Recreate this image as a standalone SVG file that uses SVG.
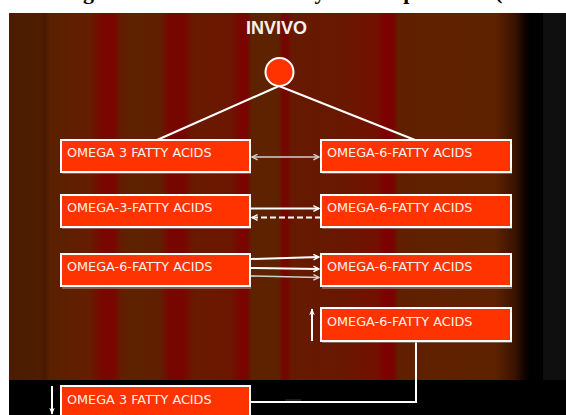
<svg xmlns="http://www.w3.org/2000/svg" width="566" height="415" viewBox="0 0 566 415">
<defs>
<linearGradient id="bg" gradientUnits="userSpaceOnUse" x1="9" y1="0" x2="543" y2="0">
<stop offset="0" stop-color="#4a1c00"/>
<stop offset="0.058" stop-color="#4f1d00"/>
<stop offset="0.067" stop-color="#461a00"/>
<stop offset="0.077" stop-color="#5a2000"/>
<stop offset="0.150" stop-color="#641e00"/>
<stop offset="0.176" stop-color="#7a0600"/>
<stop offset="0.197" stop-color="#7a0600"/>
<stop offset="0.210" stop-color="#621e00"/>
<stop offset="0.227" stop-color="#5e2200"/>
<stop offset="0.283" stop-color="#601f00"/>
<stop offset="0.300" stop-color="#780600"/>
<stop offset="0.328" stop-color="#780600"/>
<stop offset="0.345" stop-color="#681a00"/>
<stop offset="0.415" stop-color="#6c1600"/>
<stop offset="0.436" stop-color="#7c0200"/>
<stop offset="0.446" stop-color="#760600"/>
<stop offset="0.455" stop-color="#5e2200"/>
<stop offset="0.505" stop-color="#5e2200"/>
<stop offset="0.512" stop-color="#740800"/>
<stop offset="0.522" stop-color="#740800"/>
<stop offset="0.530" stop-color="#661a00"/>
<stop offset="0.620" stop-color="#681800"/>
<stop offset="0.690" stop-color="#741000"/>
<stop offset="0.704" stop-color="#7e0000"/>
<stop offset="0.719" stop-color="#780400"/>
<stop offset="0.730" stop-color="#602000"/>
<stop offset="0.910" stop-color="#5e2200"/>
<stop offset="0.948" stop-color="#3a1200"/>
<stop offset="0.966" stop-color="#100300"/>
<stop offset="0.976" stop-color="#000000"/>
<stop offset="1" stop-color="#000000"/>
</linearGradient>
<marker id="aw" viewBox="0 0 10 10" refX="9" refY="5" markerWidth="7" markerHeight="7" markerUnits="userSpaceOnUse" orient="auto-start-reverse">
<path d="M1,1 L9,5 L1,9" fill="none" stroke="#ffffff" stroke-width="2"/>
</marker>
<marker id="ag" viewBox="0 0 10 10" refX="9" refY="5" markerWidth="7" markerHeight="7" markerUnits="userSpaceOnUse" orient="auto-start-reverse">
<path d="M1,1 L9,5 L1,9" fill="none" stroke="#d0d0d0" stroke-width="2"/>
</marker>
<marker id="af" viewBox="0 0 10 10" refX="9" refY="5" markerWidth="7" markerHeight="7" markerUnits="userSpaceOnUse" orient="auto">
<path d="M0,1 L10,5 L0,9 L3,5 Z" fill="#ffffff"/>
</marker>
</defs>
<style>
.box{fill:#ff3300;stroke:#ffffff;stroke-width:2}
.sh{fill:#9a8a86;opacity:0.6}
.lbl{font-family:"DejaVu Sans","Liberation Sans",sans-serif;font-size:12.8px;fill:#fff2ec}
.ttl{font-family:"Liberation Serif","Times New Roman",serif;font-size:22px;font-weight:bold;fill:#000000}
.hd{font-family:"Liberation Sans",Arial,sans-serif;font-size:18px;font-weight:bold;fill:#f4f0ee}
.cw{fill:none;stroke:#ffffff;stroke-width:2}
.cg{fill:none;stroke:#d0d0d0;stroke-width:1.6}
</style>
<rect x="0" y="0" width="566" height="415" fill="#ffffff"/>
<text class="ttl" x="34" y="-1.5">Biological Interactions of Fatty<tspan x="358">Competition</tspan><tspan x="495">(In Vivo)</tspan></text>
<rect x="9" y="13" width="534" height="367" fill="url(#bg)"/>
<rect x="543" y="13" width="23" height="367" fill="#0f0f0f"/>
<rect x="9" y="380" width="557" height="35" fill="#000000"/>
<rect x="285" y="399" width="16" height="2" fill="#1e1e1e"/>
<text class="hd" x="246" y="34">INVIVO</text>

<g id="connectors">
<line class="cw" x1="279" y1="86" x2="157" y2="140" stroke-width="2.6"/>
<line class="cw" x1="279" y1="86" x2="415" y2="140" stroke-width="2.6"/>
<line class="cg" x1="252" y1="157" x2="319" y2="157" marker-start="url(#ag)" marker-end="url(#ag)"/>
<line class="cw" x1="251" y1="208.5" x2="319" y2="208.5" marker-end="url(#aw)"/>
<line class="cw" x1="321" y1="217.5" x2="252" y2="217.5" stroke-dasharray="6,3" marker-end="url(#aw)"/>
<line class="cw" x1="251" y1="259" x2="319" y2="257" marker-end="url(#aw)"/>
<line class="cw" x1="251" y1="268" x2="319" y2="269" marker-end="url(#aw)"/>
<line class="cg" x1="251" y1="276" x2="319" y2="277.5" marker-end="url(#ag)"/>
<line class="cw" x1="312" y1="341" x2="312" y2="309" marker-end="url(#af)"/>
<polyline class="cw" points="416,342 416,402 251,402" stroke-width="1.5"/>
<line class="cw" x1="52" y1="386" x2="52" y2="414" marker-end="url(#af)" stroke-width="1.5"/>
</g>

<g id="n-root">
<circle cx="279.5" cy="72" r="14" fill="#ff3300" stroke="#ffffff" stroke-width="2"/>
</g>
<g id="n-o3-1">
<rect class="sh" x="62" y="142" width="189" height="32"/>
<rect class="box" x="61" y="140" width="189" height="32"/>
<text class="lbl" x="67" y="157">OMEGA 3 FATTY ACIDS</text>
</g>
<g id="n-o6-1">
<rect class="sh" x="322" y="142" width="190" height="32"/>
<rect class="box" x="321" y="140" width="190" height="32"/>
<text class="lbl" x="327" y="157">OMEGA-6-FATTY ACIDS</text>
</g>
<g id="n-o3-2">
<rect class="sh" x="62" y="197" width="189" height="32"/>
<rect class="box" x="61" y="195" width="189" height="32"/>
<text class="lbl" x="67" y="212">OMEGA-3-FATTY ACIDS</text>
</g>
<g id="n-o6-2">
<rect class="sh" x="322" y="197" width="190" height="32"/>
<rect class="box" x="321" y="195" width="190" height="32"/>
<text class="lbl" x="327" y="212">OMEGA-6-FATTY ACIDS</text>
</g>
<g id="n-o6-3">
<rect class="sh" x="62" y="256" width="189" height="33"/>
<rect class="box" x="61" y="254" width="189" height="32"/>
<text class="lbl" x="67" y="271">OMEGA-6-FATTY ACIDS</text>
</g>
<g id="n-o6-4">
<rect class="sh" x="322" y="256" width="190" height="33"/>
<rect class="box" x="321" y="254" width="190" height="32"/>
<text class="lbl" x="327" y="271">OMEGA-6-FATTY ACIDS</text>
</g>
<g id="n-o6-5">
<rect class="sh" x="322" y="310" width="190" height="33"/>
<rect class="box" x="321" y="308" width="190" height="33"/>
<text class="lbl" x="327" y="326">OMEGA-6-FATTY ACIDS</text>
</g>
<g id="n-o3-3">
<rect class="box" x="61" y="386" width="189" height="40"/>
<text class="lbl" x="67" y="404">OMEGA 3 FATTY ACIDS</text>
</g>
</svg>
